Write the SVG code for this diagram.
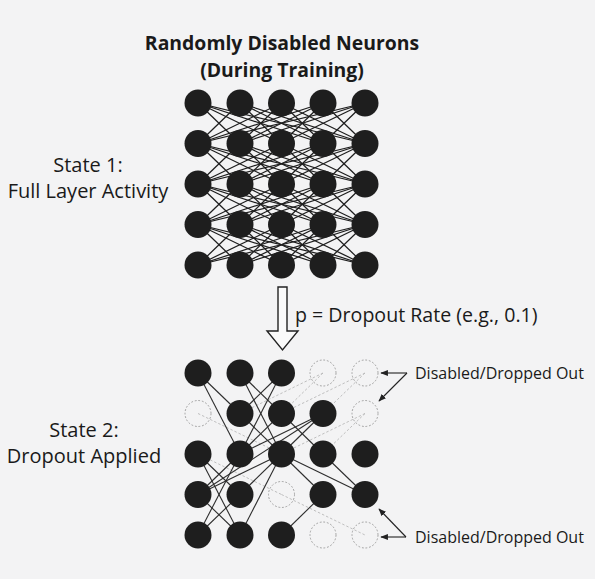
<svg xmlns="http://www.w3.org/2000/svg" xmlns:xlink="http://www.w3.org/1999/xlink" width="595" height="579" viewBox="0 0 595 579">
<defs>
<style>
.title{font-family:"Open Sans","Liberation Sans",sans-serif;font-weight:bold;font-size:19.4px;fill:#1a1a1a;text-anchor:middle}
.lbl{font-family:"Open Sans","Liberation Sans",sans-serif;font-size:20px;fill:#1a1a1a;text-anchor:middle}
.note{font-family:"Open Sans","Liberation Sans",sans-serif;font-size:16px;fill:#1a1a1a}
.rate{font-family:"Open Sans","Liberation Sans",sans-serif;font-size:19.6px;fill:#1a1a1a}
.n{fill:#1e1e1e}
.d{fill:none;stroke:#a0a0a0;stroke-width:1;stroke-dasharray:1.8 1.8}
.w{stroke:#1e1e1e;stroke-width:1.25;fill:none}
.s{stroke:#2e2e2e;stroke-width:1.1;fill:none}
.dl{stroke:#b8b8b8;stroke-width:0.9;stroke-dasharray:2.5 2;fill:none}
.pt{stroke:#222;stroke-width:1.1;fill:none}
</style>
<marker id="ah" viewBox="0 0 10 10" refX="9" refY="5" markerWidth="7" markerHeight="7" orient="auto">
<path d="M0,1 L10,5 L0,9 Z" fill="#222"/>
</marker>
<g id="mesh">
<line x1="198" y1="0" x2="240" y2="40.5"/><line x1="198" y1="0" x2="281.5" y2="40.5"/><line x1="198" y1="0" x2="323" y2="40.5"/><line x1="198" y1="0" x2="365" y2="40.5"/>
<line x1="240" y1="0" x2="198" y2="40.5"/><line x1="240" y1="0" x2="281.5" y2="40.5"/><line x1="240" y1="0" x2="323" y2="40.5"/><line x1="240" y1="0" x2="365" y2="40.5"/>
<line x1="281.5" y1="0" x2="198" y2="40.5"/><line x1="281.5" y1="0" x2="240" y2="40.5"/><line x1="281.5" y1="0" x2="323" y2="40.5"/><line x1="281.5" y1="0" x2="365" y2="40.5"/>
<line x1="323" y1="0" x2="198" y2="40.5"/><line x1="323" y1="0" x2="240" y2="40.5"/><line x1="323" y1="0" x2="281.5" y2="40.5"/><line x1="323" y1="0" x2="365" y2="40.5"/>
<line x1="365" y1="0" x2="198" y2="40.5"/><line x1="365" y1="0" x2="240" y2="40.5"/><line x1="365" y1="0" x2="281.5" y2="40.5"/><line x1="365" y1="0" x2="323" y2="40.5"/>
</g>
</defs>
<rect width="595" height="579" fill="#f3f3f4"/>

<g id="title">
<text class="title" x="282" y="50">Randomly Disabled Neurons</text>
<text class="title" x="282" y="76.5">(During Training)</text>
</g>

<g id="state1-label">
<text class="lbl" x="88" y="171.5">State 1:</text>
<text class="lbl" x="88" y="197.5">Full Layer Activity</text>
</g>
<g id="state2-label">
<text class="lbl" x="84" y="437">State 2:</text>
<text class="lbl" x="84" y="463">Dropout Applied</text>
</g>

<g id="connectors">
<g id="full-mesh" class="w">
<use xlink:href="#mesh" href="#mesh" transform="translate(0,103)"/>
<use xlink:href="#mesh" href="#mesh" transform="translate(0,143.5)"/>
<use xlink:href="#mesh" href="#mesh" transform="translate(0,184)"/>
<use xlink:href="#mesh" href="#mesh" transform="translate(0,224.5)"/>
</g>
<g id="dropped-links" class="dl">
<line x1="323" y1="373" x2="281.5" y2="413.5"/>
<line x1="323" y1="373" x2="240" y2="413.5"/>
<line x1="365" y1="373" x2="281.5" y2="413.5"/>
<line x1="365" y1="373" x2="323" y2="413.5"/>
<line x1="198" y1="413.5" x2="281.5" y2="454"/>
<line x1="365" y1="413.5" x2="281.5" y2="454"/>
<line x1="365" y1="413.5" x2="323" y2="454"/>
<line x1="198" y1="454" x2="281.5" y2="494.5"/>
<line x1="281.5" y1="494.5" x2="365" y2="535"/>
</g>
<g id="active-links" class="s">
<line x1="198" y1="373" x2="240" y2="413.5"/>
<line x1="198" y1="373" x2="240" y2="454"/>
<line x1="240" y1="373" x2="281.5" y2="413.5"/>
<line x1="240" y1="373" x2="281.5" y2="454"/>
<line x1="281.5" y1="373" x2="240" y2="454"/>
<line x1="281.5" y1="373" x2="240" y2="413.5"/>
<line x1="240" y1="413.5" x2="281.5" y2="454"/>
<line x1="281.5" y1="413.5" x2="240" y2="454"/>
<line x1="281.5" y1="413.5" x2="323" y2="454"/>
<line x1="323" y1="413.5" x2="240" y2="454"/>
<line x1="323" y1="413.5" x2="281.5" y2="454"/>
<line x1="323" y1="413.5" x2="198" y2="494.5"/>
<line x1="198" y1="454" x2="240" y2="494.5"/>
<line x1="198" y1="454" x2="240" y2="535"/>
<line x1="240" y1="454" x2="198" y2="494.5"/>
<line x1="240" y1="454" x2="198" y2="535"/>
<line x1="281.5" y1="454" x2="198" y2="494.5"/>
<line x1="281.5" y1="454" x2="240" y2="535"/>
<line x1="281.5" y1="454" x2="323" y2="494.5"/>
<line x1="281.5" y1="454" x2="365" y2="494.5"/>
<line x1="323" y1="454" x2="365" y2="494.5"/>
<line x1="198" y1="494.5" x2="240" y2="535"/>
<line x1="240" y1="494.5" x2="198" y2="535"/>
<line x1="240" y1="494.5" x2="281.5" y2="454"/>
<line x1="323" y1="494.5" x2="281.5" y2="535"/>
</g>
<g id="pointers" class="pt">
<line x1="407" y1="373" x2="381" y2="373" marker-end="url(#ah)"/>
<line x1="407" y1="373" x2="379" y2="401" marker-end="url(#ah)"/>
<line x1="406" y1="537" x2="379" y2="509" marker-end="url(#ah)"/>
<line x1="406" y1="537" x2="381" y2="537" marker-end="url(#ah)"/>
</g>
</g>

<g id="layer1">
<g id="n1-r0"><circle class="n" cx="198" cy="103" r="13.5"/><circle class="n" cx="240" cy="103" r="13.5"/><circle class="n" cx="281.5" cy="103" r="13.5"/><circle class="n" cx="323" cy="103" r="13.5"/><circle class="n" cx="365" cy="103" r="13.5"/></g>
<g id="n1-r1"><circle class="n" cx="198" cy="143.5" r="13.5"/><circle class="n" cx="240" cy="143.5" r="13.5"/><circle class="n" cx="281.5" cy="143.5" r="13.5"/><circle class="n" cx="323" cy="143.5" r="13.5"/><circle class="n" cx="365" cy="143.5" r="13.5"/></g>
<g id="n1-r2"><circle class="n" cx="198" cy="184" r="13.5"/><circle class="n" cx="240" cy="184" r="13.5"/><circle class="n" cx="281.5" cy="184" r="13.5"/><circle class="n" cx="323" cy="184" r="13.5"/><circle class="n" cx="365" cy="184" r="13.5"/></g>
<g id="n1-r3"><circle class="n" cx="198" cy="224.5" r="13.5"/><circle class="n" cx="240" cy="224.5" r="13.5"/><circle class="n" cx="281.5" cy="224.5" r="13.5"/><circle class="n" cx="323" cy="224.5" r="13.5"/><circle class="n" cx="365" cy="224.5" r="13.5"/></g>
<g id="n1-r4"><circle class="n" cx="198" cy="265" r="13.5"/><circle class="n" cx="240" cy="265" r="13.5"/><circle class="n" cx="281.5" cy="265" r="13.5"/><circle class="n" cx="323" cy="265" r="13.5"/><circle class="n" cx="365" cy="265" r="13.5"/></g>
</g>

<g id="dropout-arrow">
<path d="M278,287 L287,287 L287,331 L298,331 L282.5,350 L267,331 L278,331 Z" fill="#fafafa" stroke="#222" stroke-width="1.4" stroke-linejoin="miter"/>
<text class="rate" x="295" y="322">p = Dropout Rate (e.g., 0.1)</text>
</g>

<g id="layer2">
<g id="n2-r0"><circle class="n" cx="198" cy="373" r="13.5"/><circle class="n" cx="240" cy="373" r="13.5"/><circle class="n" cx="281.5" cy="373" r="13.5"/><circle class="d" cx="323" cy="373" r="13"/><circle class="d" cx="365" cy="373" r="13"/></g>
<g id="n2-r1"><circle class="d" cx="198" cy="413.5" r="13"/><circle class="n" cx="240" cy="413.5" r="13.5"/><circle class="n" cx="281.5" cy="413.5" r="13.5"/><circle class="n" cx="323" cy="413.5" r="13.5"/><circle class="d" cx="365" cy="413.5" r="13"/></g>
<g id="n2-r2"><circle class="n" cx="198" cy="454" r="13.5"/><circle class="n" cx="240" cy="454" r="13.5"/><circle class="n" cx="281.5" cy="454" r="13.5"/><circle class="n" cx="323" cy="454" r="13.5"/><circle class="n" cx="365" cy="454" r="13.5"/></g>
<g id="n2-r3"><circle class="n" cx="198" cy="494.5" r="13.5"/><circle class="n" cx="240" cy="494.5" r="13.5"/><circle class="d" cx="281.5" cy="494.5" r="13"/><circle class="n" cx="323" cy="494.5" r="13.5"/><circle class="n" cx="365" cy="494.5" r="13.5"/></g>
<g id="n2-r4"><circle class="n" cx="198" cy="535" r="13.5"/><circle class="n" cx="240" cy="535" r="13.5"/><circle class="n" cx="281.5" cy="535" r="13.5"/><circle class="d" cx="323" cy="535" r="13"/><circle class="d" cx="365" cy="535" r="13"/></g>
</g>

<g id="notes">
<text class="note" x="415" y="379">Disabled/Dropped Out</text>
<text class="note" x="415" y="543">Disabled/Dropped Out</text>
</g>
</svg>
